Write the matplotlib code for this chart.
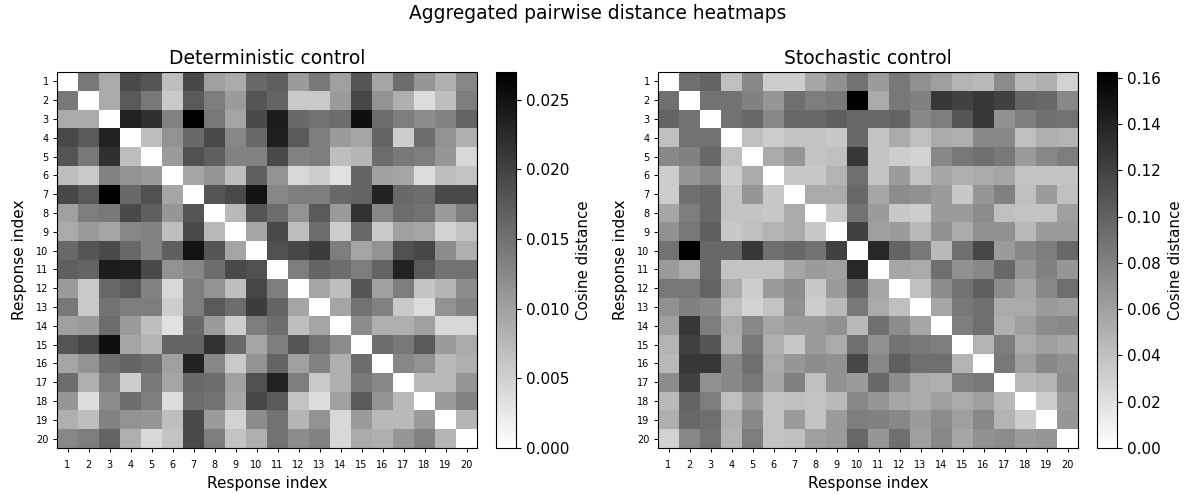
import numpy as np
import matplotlib
matplotlib.use("Agg")
import matplotlib.pyplot as plt

# upper triangle of each matrix, row by row, in units of 1e-3 cosine distance
det_upper = [
    [14.3, 9.0, 19.1, 18.0, 6.9, 19.4, 10.1, 9.0, 15.9, 16.9, 10.6, 14.3, 10.1, 18.0, 9.5, 15.4, 11.1, 8.5, 12.7],
    [9.0, 17.5, 14.3, 5.8, 17.5, 13.8, 10.6, 18.0, 16.4, 5.8, 5.8, 10.6, 19.6, 11.6, 8.5, 3.7, 6.9, 13.8],
    [23.3, 21.9, 13.2, 27.0, 14.3, 9.5, 19.1, 24.0, 15.9, 14.8, 15.4, 25.4, 15.4, 13.8, 12.2, 13.2, 16.4],
    [6.9, 11.6, 15.9, 19.1, 12.7, 15.9, 23.8, 17.5, 13.8, 10.6, 9.5, 16.4, 5.3, 15.4, 11.6, 8.5],
    [10.6, 18.5, 16.9, 13.2, 13.2, 19.1, 13.2, 13.8, 6.9, 7.9, 15.4, 14.3, 13.8, 11.1, 4.2],
    [9.5, 11.1, 6.9, 16.9, 11.6, 4.2, 5.3, 3.2, 16.4, 10.1, 9.5, 3.7, 6.9, 6.3],
    [18.0, 19.1, 24.9, 12.7, 13.8, 13.8, 15.9, 16.4, 23.3, 15.9, 15.4, 19.1, 19.1],
    [7.4, 18.0, 15.4, 11.6, 17.5, 10.6, 21.7, 12.7, 15.4, 14.8, 10.6, 13.8],
    [9.5, 19.1, 6.9, 15.4, 5.3, 15.9, 5.8, 10.1, 9.5, 4.8, 6.3],
    [18.5, 19.6, 20.6, 13.8, 9.5, 11.6, 18.5, 19.6, 12.2, 8.5],
    [13.8, 16.4, 15.4, 13.8, 16.4, 23.3, 17.5, 14.8, 14.8],
    [9.5, 6.9, 18.0, 10.1, 13.8, 6.3, 7.9, 12.2],
    [9.5, 14.8, 13.2, 5.8, 3.7, 11.6, 13.2],
    [12.2, 8.5, 8.5, 10.1, 4.2, 4.2],
    [15.4, 14.3, 17.5, 10.6, 9.0],
    [12.7, 11.6, 7.4, 8.5],
    [7.4, 7.4, 11.1],
    [10.6, 13.2],
    [7.9],
]

sto_upper = [
    [92, 99, 41, 76, 32, 32, 57, 70, 89, 64, 86, 70, 61, 48, 45, 73, 45, 51, 29],
    [89, 89, 80, 67, 92, 83, 86, 162.5, 54, 86, 80, 127.5, 121, 127.5, 121, 99, 96, 76],
    [89, 96, 76, 96, 96, 102, 96, 96, 99, 76, 83, 108, 127.5, 70, 83, 92, 89],
    [41, 32, 38, 38, 35, 96, 38, 54, 41, 54, 51, 76, 76, 41, 51, 48],
    [54, 67, 38, 41, 127.5, 38, 32, 29, 76, 86, 92, 86, 64, 76, 83],
    [35, 35, 48, 92, 38, 64, 38, 57, 51, 54, 57, 38, 38, 38],
    [54, 54, 96, 57, 73, 70, 64, 35, 67, 80, 41, 64, 41],
    [35, 89, 64, 35, 32, 64, 64, 73, 41, 38, 38, 61],
    [121, 61, 64, 45, 70, 54, 70, 70, 45, 64, 64],
    [137, 99, 86, 45, 92, 118, 64, 76, 83, 96],
    [57, 54, 92, 70, 76, 96, 67, 80, 67],
    [41, 73, 89, 102, 73, 57, 76, 92],
    [57, 86, 92, 54, 54, 64, 61],
    [83, 92, 51, 61, 73, 76],
    [48, 83, 54, 61, 57],
    [86, 61, 76, 70],
    [45, 48, 73],
    [32, 64],
    [67],
]

response_labels = [str(i) for i in range(1, 21)]
det_ticks = [0.0, 0.005, 0.010, 0.015, 0.020, 0.025]
sto_ticks = [0.0, 0.02, 0.04, 0.06, 0.08, 0.10, 0.12, 0.14, 0.16]


def to_matrix(upper):
    m = np.zeros((20, 20))
    for i, row in enumerate(upper):
        m[i, i + 1:] = row
    return (m + m.T) / 1000


def add_heatmap(fig, rect, cbar_rect, upper, title, ticks, tick_fmt):
    W, H = 1185, 495
    x0, y0, x1, y1 = rect
    ax = fig.add_axes([x0 / W, 1 - y1 / H, (x1 - x0) / W, (y1 - y0) / H])
    im = ax.imshow(to_matrix(upper), cmap="gray_r", aspect="auto", interpolation="nearest")
    ax.set_xticks(range(20))
    ax.set_yticks(range(20))
    ax.set_xticklabels(response_labels)
    ax.set_yticklabels(response_labels)
    ax.tick_params(labelsize=7, length=3, width=0.7, pad=3)
    ax.tick_params(axis="x", pad=6)
    ax.set_xlabel("Response index", fontsize=11, labelpad=4)
    ax.set_ylabel("Response index", fontsize=11, labelpad=7)
    ax.set_title(title, fontsize=13.5, pad=6)

    x0, y0, x1, y1 = cbar_rect
    cax = fig.add_axes([x0 / W, 1 - y1 / H, (x1 - x0) / W, (y1 - y0) / H])
    cbar = fig.colorbar(im, cax=cax)
    cbar.set_ticks(ticks)
    cbar.set_ticklabels([tick_fmt % t for t in ticks])
    cbar.ax.tick_params(labelsize=11, length=3.5, width=0.8)
    cbar.set_label("Cosine distance", fontsize=10.8, labelpad=5)


fig = plt.figure(figsize=(11.85, 4.95), dpi=100)
fig.suptitle("Aggregated pairwise distance heatmaps", fontsize=13.4, x=0.504, y=0.991)

add_heatmap(fig, (57, 72, 477, 448), (496, 72, 516, 448), det_upper,
            "Deterministic control", det_ticks, "%.3f")
add_heatmap(fig, (658, 72, 1078, 448), (1097, 72, 1117, 448), sto_upper,
            "Stochastic control", sto_ticks, "%.2f")

plt.savefig("out.png", dpi=100)
plt.close()
